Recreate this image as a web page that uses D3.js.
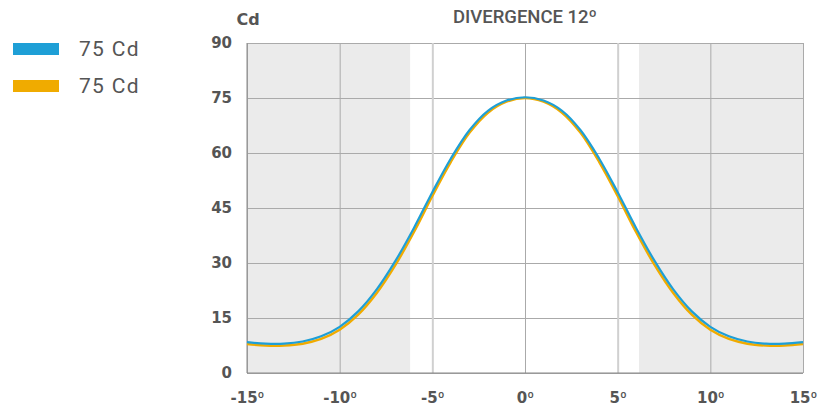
<!DOCTYPE html>
<html><head><meta charset="utf-8">
<script src="https://cdn.jsdelivr.net/npm/d3@7"></script>
<style>body{margin:0;background:#fff}svg{display:block}</style>
</head><body>
<svg id="c" width="830" height="407"></svg>
<script>
const angles = [-15,-14,-13,-12,-11,-10,-9,-8,-7,-6,-5,-4,-3,-2,-1,0,1,2,3,4,5,6,7,8,9,10,11,12,13,14,15];
const blueValues = [8.4,8.0,8.0,8.6,10.0,12.6,16.8,22.8,30.5,39.5,49.3,58.5,66.2,71.5,74.3,75.2,74.3,71.5,66.2,58.5,49.3,39.5,30.5,22.8,16.8,12.6,10.0,8.6,8.0,8.0,8.4];
const orangeValues = [7.9,7.5,7.5,8.0,9.3,11.8,15.9,21.8,29.4,38.4,48.3,57.6,65.5,71.0,74.0,75.0,74.0,71.0,65.5,57.6,48.3,38.4,29.4,21.8,15.9,11.8,9.3,8.0,7.5,7.5,7.9];
const xTicks = [-15,-10,-5,0,5,10,15];
const yTicks = [0,15,30,45,60,75,90];
const shadedRanges = [[-15,-6.2],[6.15,15]];
const legendLabels = ["75 Cd","75 Cd"];
const title = "DIVERGENCE 12º";
const yTitle = "Cd";

const svg = d3.select("#c");
const x = d3.scaleLinear().domain([-15,15]).range([247,803]);
const y = d3.scaleLinear().domain([0,90]).range([373,43]);
const txt = "#555";
const tickFont = "700 15px 'DejaVu Sans'";

svg.selectAll("rect.shade").data(shadedRanges).join("rect")
  .attr("x", d=>x(d[0])).attr("width", d=>x(d[1])-x(d[0]))
  .attr("y", y(90)).attr("height", y(0)-y(90)).attr("fill","#ebebeb");

// horizontal grid
svg.append("g").attr("transform",`translate(${x(-15)},0)`)
  .call(d3.axisLeft(y).tickValues(yTicks).tickSize(-(x(15)-x(-15))).tickFormat(""))
  .call(g=>g.select(".domain").remove())
  .call(g=>g.selectAll("line").attr("stroke","#aaa").attr("stroke-width",1));
// vertical grid
svg.append("g").attr("transform",`translate(0,${y(0)})`)
  .call(d3.axisBottom(x).tickValues(xTicks).tickSize(-(y(0)-y(90))).tickFormat(""))
  .call(g=>g.select(".domain").remove())
  .call(g=>g.selectAll("line").attr("stroke",d=>Math.abs(d)===5?"#d0d0d0":"#aaa").attr("stroke-width",d=>Math.abs(d)===5?2:1));

// axis lines
svg.append("line").attr("x1",x(-15)).attr("x2",x(-15)).attr("y1",y(90)).attr("y2",y(0)).attr("stroke","#888");
svg.append("line").attr("x1",x(-15)).attr("x2",x(15)).attr("y1",y(0)).attr("y2",y(0)).attr("stroke","#888");

// tick labels
svg.append("g").attr("transform",`translate(${x(-15)},0)`)
  .call(d3.axisLeft(y).tickValues(yTicks).tickSize(0).tickPadding(15))
  .call(g=>g.select(".domain").remove())
  .call(g=>g.selectAll("text").attr("fill",txt).style("font",tickFont).attr("text-anchor","end"));
svg.append("g").attr("transform",`translate(0,${y(0)})`)
  .call(d3.axisBottom(x).tickValues(xTicks).tickSize(0).tickPadding(19))
  .call(g=>g.select(".domain").remove())
  .call(g=>g.selectAll("text").attr("fill",txt).style("font",tickFont)
    .each(function(d){
      const t=d3.select(this); t.text(null);
      t.append("tspan").text(d);
      t.append("tspan").style("font","700 15px Roboto").text("º");
    }));

const line = d3.line().x((d,i)=>x(angles[i])).y(d=>y(d)).curve(d3.curveCatmullRom);
svg.append("path").attr("d",line(orangeValues)).attr("fill","none").attr("stroke","#f0ab00").attr("stroke-width",2.5);
svg.append("path").attr("d",line(blueValues)).attr("fill","none").attr("stroke","#1e9fd6").attr("stroke-width",2.2);

svg.append("text").attr("x",x(0)).attr("y",23).attr("text-anchor","middle").attr("fill",txt)
  .style("font","500 18.5px Roboto").text(title);
svg.append("text").attr("x",248).attr("y",25).attr("text-anchor","middle").attr("fill",txt)
  .style("font","700 16px 'DejaVu Sans'").text(yTitle);

const legColors = ["#1e9fd6","#f0ab00"];
const leg = svg.selectAll("g.leg").data(legendLabels).join("g").attr("transform",(d,i)=>`translate(0,${43+i*37})`);
leg.append("rect").attr("x",13).attr("y",0).attr("width",46).attr("height",12).attr("fill",(d,i)=>legColors[i]);
leg.append("text").attr("x",79).attr("y",13).attr("fill",txt).style("font","400 21px Roboto").style("letter-spacing","1.3px").text(d=>d);
</script>
</body></html>
